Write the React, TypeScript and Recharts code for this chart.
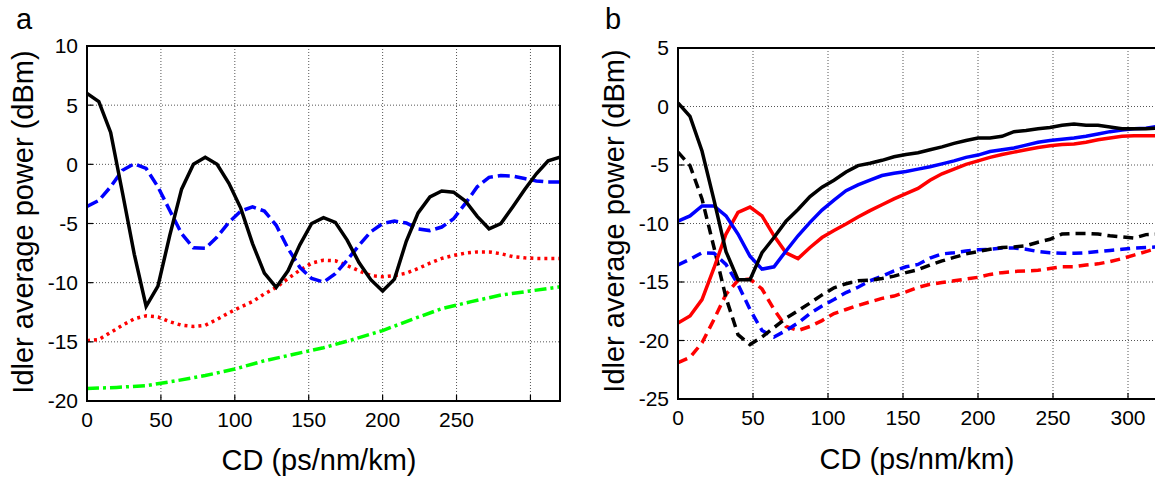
import { LineChart, Line, XAxis, YAxis, CartesianGrid } from "recharts";

// CD sample points (ps/nm/km)
const cd = [0, 8, 16, 24, 32, 40, 48, 56, 64, 72, 80, 88, 96, 104, 112, 120, 128, 136, 144, 152, 160,
    168, 176, 184, 192, 200, 208, 216, 224, 232, 240, 248, 256, 264, 272, 280, 288, 296, 304, 312, 320];

// panel a
const aBlack = [6.0, 5.3, 2.7, -2.4, -7.6, -12.0, -10.3, -6.0, -2.1, 0.0, 0.6, 0.0, -1.6, -3.7, -6.7, -9.2, -10.4, -9.0, -6.8, -5.0, -4.5,
    -4.9, -6.4, -8.3, -9.75, -10.7, -9.7, -6.5, -4.1, -2.75, -2.25, -2.35, -3.1, -4.4, -5.45, -5.0, -3.6, -2.15, -0.8, 0.3, 0.6];
const aBlue = [-3.55, -3.05, -1.9, -0.5, 0.05, -0.35, -1.9, -3.9, -5.85, -7.05, -7.1, -6.15, -4.9, -3.95, -3.6, -3.95, -5.15, -7.1, -8.7, -9.65, -9.95,
    -9.25, -8.1, -6.85, -5.7, -5.0, -4.8, -4.95, -5.45, -5.6, -5.3, -4.6, -3.3, -1.9, -1.1, -0.95, -1.0, -1.2, -1.4, -1.5, -1.5];
const aRed = [-14.9, -14.8, -14.2, -13.6, -13.05, -12.8, -12.9, -13.3, -13.6, -13.7, -13.6, -13.1, -12.55, -12.05, -11.6, -10.95, -10.4, -9.65, -8.95, -8.35, -8.1,
    -8.15, -8.55, -9.0, -9.4, -9.5, -9.4, -9.2, -8.8, -8.35, -7.95, -7.7, -7.5, -7.4, -7.4, -7.55, -7.8, -7.9, -7.95, -7.95, -7.95];
const cdGreen = [0, 20, 40, 60, 80, 100, 120, 140, 160, 180, 200, 220, 240, 260, 280, 300, 320];
const aGreen = [-18.95, -18.85, -18.7, -18.3, -17.85, -17.3, -16.6, -16.05, -15.5, -14.8, -14.05, -13.1, -12.2, -11.6, -11.05, -10.7, -10.35];

// panel b
const bBlack = [0.3, -0.85, -3.8, -8.0, -12.4, -14.8, -14.8, -12.5, -11.2, -9.8, -8.8, -7.7, -6.9, -6.3, -5.6, -5.05, -4.85, -4.6, -4.3, -4.1, -3.95,
    -3.7, -3.45, -3.15, -2.9, -2.7, -2.7, -2.55, -2.15, -2.05, -1.9, -1.8, -1.6, -1.5, -1.6, -1.6, -1.75, -1.9, -1.9, -1.9, -1.85];
const bBlue = [-9.8, -9.35, -8.5, -8.5, -9.35, -10.9, -12.8, -13.9, -13.7, -12.35, -11.05, -9.9, -8.85, -8.0, -7.2, -6.7, -6.3, -5.9, -5.7, -5.55, -5.35,
    -5.15, -4.9, -4.65, -4.35, -4.15, -3.85, -3.7, -3.55, -3.3, -3.05, -2.9, -2.8, -2.7, -2.55, -2.35, -2.15, -2.0, -1.9, -1.85, -1.7];
const bRed = [-18.5, -17.9, -16.5, -13.8, -10.9, -9.05, -8.6, -9.35, -11.05, -12.5, -13.0, -12.05, -11.2, -10.6, -10.05, -9.45, -8.9, -8.4, -7.9, -7.45, -7.0,
    -6.3, -5.75, -5.35, -4.95, -4.65, -4.35, -4.1, -3.9, -3.7, -3.5, -3.35, -3.25, -3.2, -3.05, -2.85, -2.7, -2.55, -2.5, -2.5, -2.5];
const bBlackDash = [-3.9, -5.05, -7.9, -12.05, -16.35, -19.5, -20.35, -19.7, -18.9, -18.1, -17.45, -16.8, -16.1, -15.5, -15.15, -14.9, -14.85, -14.7, -14.5, -14.2, -13.95,
    -13.55, -13.2, -12.9, -12.6, -12.4, -12.2, -12.05, -12.0, -11.9, -11.6, -11.35, -10.9, -10.85, -10.85, -10.9, -11.05, -11.15, -11.25, -10.95, -10.9];
const bBlueDash = [-13.55, -13.05, -12.5, -12.55, -13.5, -15.2, -17.35, -19.15, -19.7, -19.15, -18.5, -17.7, -17.05, -16.5, -15.9, -15.45, -14.9, -14.5, -14.05, -13.7, -13.5,
    -12.95, -12.6, -12.5, -12.35, -12.25, -12.2, -12.1, -12.1, -12.2, -12.4, -12.5, -12.55, -12.55, -12.5, -12.4, -12.3, -12.2, -12.1, -12.05, -12.0];
const bRedDash = [-21.9, -21.45, -20.2, -18.2, -16.05, -14.85, -14.75, -15.6, -17.35, -18.8, -19.15, -18.8, -18.3, -17.7, -17.35, -17.0, -16.7, -16.4, -16.2, -15.85, -15.45,
    -15.2, -15.05, -14.9, -14.75, -14.6, -14.35, -14.2, -14.1, -14.05, -14.0, -13.85, -13.7, -13.7, -13.55, -13.45, -13.25, -13.0, -12.7, -12.4, -12.1];

const xTicks = [0, 50, 100, 150, 200, 250, 300];
const aYTicks = [-20, -15, -10, -5, 0, 5, 10];
const bYTicks = [-25, -20, -15, -10, -5, 0, 5];

const dataA = cd.map((x, i) => ({ cd: x, black: aBlack[i], blue: aBlue[i], red: aRed[i] }));
const dataGreen = cdGreen.map((x, i) => ({ cd: x, green: aGreen[i] }));
const dataB = cd.map((x, i) => ({
    cd: x, black: bBlack[i], blue: bBlue[i], red: bRed[i],
    blackD: bBlackDash[i], blueD: bBlueDash[i], redD: bRedDash[i],
}));

const FONT = "'Liberation Sans', Arial, sans-serif";
const tickStyle = { fill: '#000', fontSize: 21, fontFamily: FONT };
const axisLine = { stroke: '#000', strokeWidth: 2 };
const tickLine = { stroke: '#000', strokeWidth: 1.2 };

const text = (s: string, style: React.CSSProperties) => (
    <div style={{ position: 'absolute', fontFamily: FONT, fontSize: 29, lineHeight: '29px', whiteSpace: 'nowrap', color: '#000', ...style }}>{s}</div>
);

// plot box outline (top/right sides of the matlab box)
const box = (left: number, top: number, w: number, h: number) => (
    <div style={{ position: 'absolute', left: left - 1, top: top - 1, width: w + 2, height: h + 2, boxSizing: 'border-box', border: '2px solid #000', pointerEvents: 'none' }} />
);

// labelled axes, ticks pointing inward
function axes(yTicks: number[], yDomain: number[], hide300: boolean, yWidth: number, xHeight: number) {
    return [
        <XAxis key="xb" dataKey="cd" type="number" domain={[0, 320]} ticks={xTicks} interval={0} height={xHeight}
            tick={tickStyle} tickSize={-6} tickMargin={17} axisLine={axisLine} tickLine={tickLine}
            tickFormatter={(v: number) => (hide300 && v === 300 ? '' : String(v))} allowDataOverflow />,
        <YAxis key="yl" type="number" domain={yDomain} ticks={yTicks} interval={0} width={yWidth}
            tick={tickStyle} tickSize={-6} tickMargin={15} axisLine={axisLine} tickLine={tickLine} allowDataOverflow />,
    ];
}

export default function App() {
    return (
        <div style={{ position: 'fixed', left: 0, top: 0, width: 1155, height: 478, overflow: 'hidden', background: '#fff' }}>
            {/* panel a */}
            <div style={{ position: 'absolute', left: 0, top: 0 }}>
                <LineChart width={580} height={478} data={dataA} margin={{ top: 46, right: 20, bottom: 0, left: 0 }}>
                    <CartesianGrid stroke="#555" strokeDasharray="1 2" />
                    {axes(aYTicks, [-20, 10], true, 87, 77)}
                    <Line dataKey="green" data={dataGreen} stroke="#00ff00" strokeWidth={3.5} strokeDasharray="12 4 3 4" dot={false} isAnimationActive={false} />
                    <Line dataKey="red" stroke="#ff0000" strokeWidth={3.5} strokeDasharray="3 4" dot={false} isAnimationActive={false} />
                    <Line dataKey="blue" stroke="#0000ff" strokeWidth={3.5} strokeDasharray="12 5" dot={false} isAnimationActive={false} />
                    <Line dataKey="black" stroke="#000" strokeWidth={3.5} dot={false} isAnimationActive={false} />
                </LineChart>
            </div>
            {/* panel b */}
            <div style={{ position: 'absolute', left: 590, top: 0 }}>
                <LineChart width={580} height={478} data={dataB} margin={{ top: 48, right: 12, bottom: 0, left: 0 }}>
                    <CartesianGrid stroke="#555" strokeDasharray="1 2" />
                    {axes(bYTicks, [-25, 5], false, 88, 79)}
                    <Line dataKey="redD" stroke="#ff0000" strokeWidth={3.5} strokeDasharray="10 6" dot={false} isAnimationActive={false} />
                    <Line dataKey="blueD" stroke="#0000ff" strokeWidth={3.5} strokeDasharray="10 6" dot={false} isAnimationActive={false} />
                    <Line dataKey="blackD" stroke="#000" strokeWidth={3.5} strokeDasharray="10 6" dot={false} isAnimationActive={false} />
                    <Line dataKey="red" stroke="#ff0000" strokeWidth={3.5} dot={false} isAnimationActive={false} />
                    <Line dataKey="blue" stroke="#0000ff" strokeWidth={3.5} dot={false} isAnimationActive={false} />
                    <Line dataKey="black" stroke="#000" strokeWidth={3.5} dot={false} isAnimationActive={false} />
                </LineChart>
            </div>
            {box(87, 46, 473, 355)}
            {box(678, 48, 480, 351)}
            {text('a', { left: 16, top: 5 })}
            {text('b', { left: 605, top: 5 })}
            {text('Idler average power (dBm)', { left: 23, top: 222, transform: 'translate(-50%, -50%) rotate(-90deg)' })}
            {text('Idler average power (dBm)', { left: 614, top: 221, transform: 'translate(-50%, -50%) rotate(-90deg)' })}
            {text('CD (ps/nm/km)', { left: 319, top: 460, transform: 'translate(-50%, -50%)' })}
            {text('CD (ps/nm/km)', { left: 917, top: 459, transform: 'translate(-50%, -50%)' })}
        </div>
    );
}
